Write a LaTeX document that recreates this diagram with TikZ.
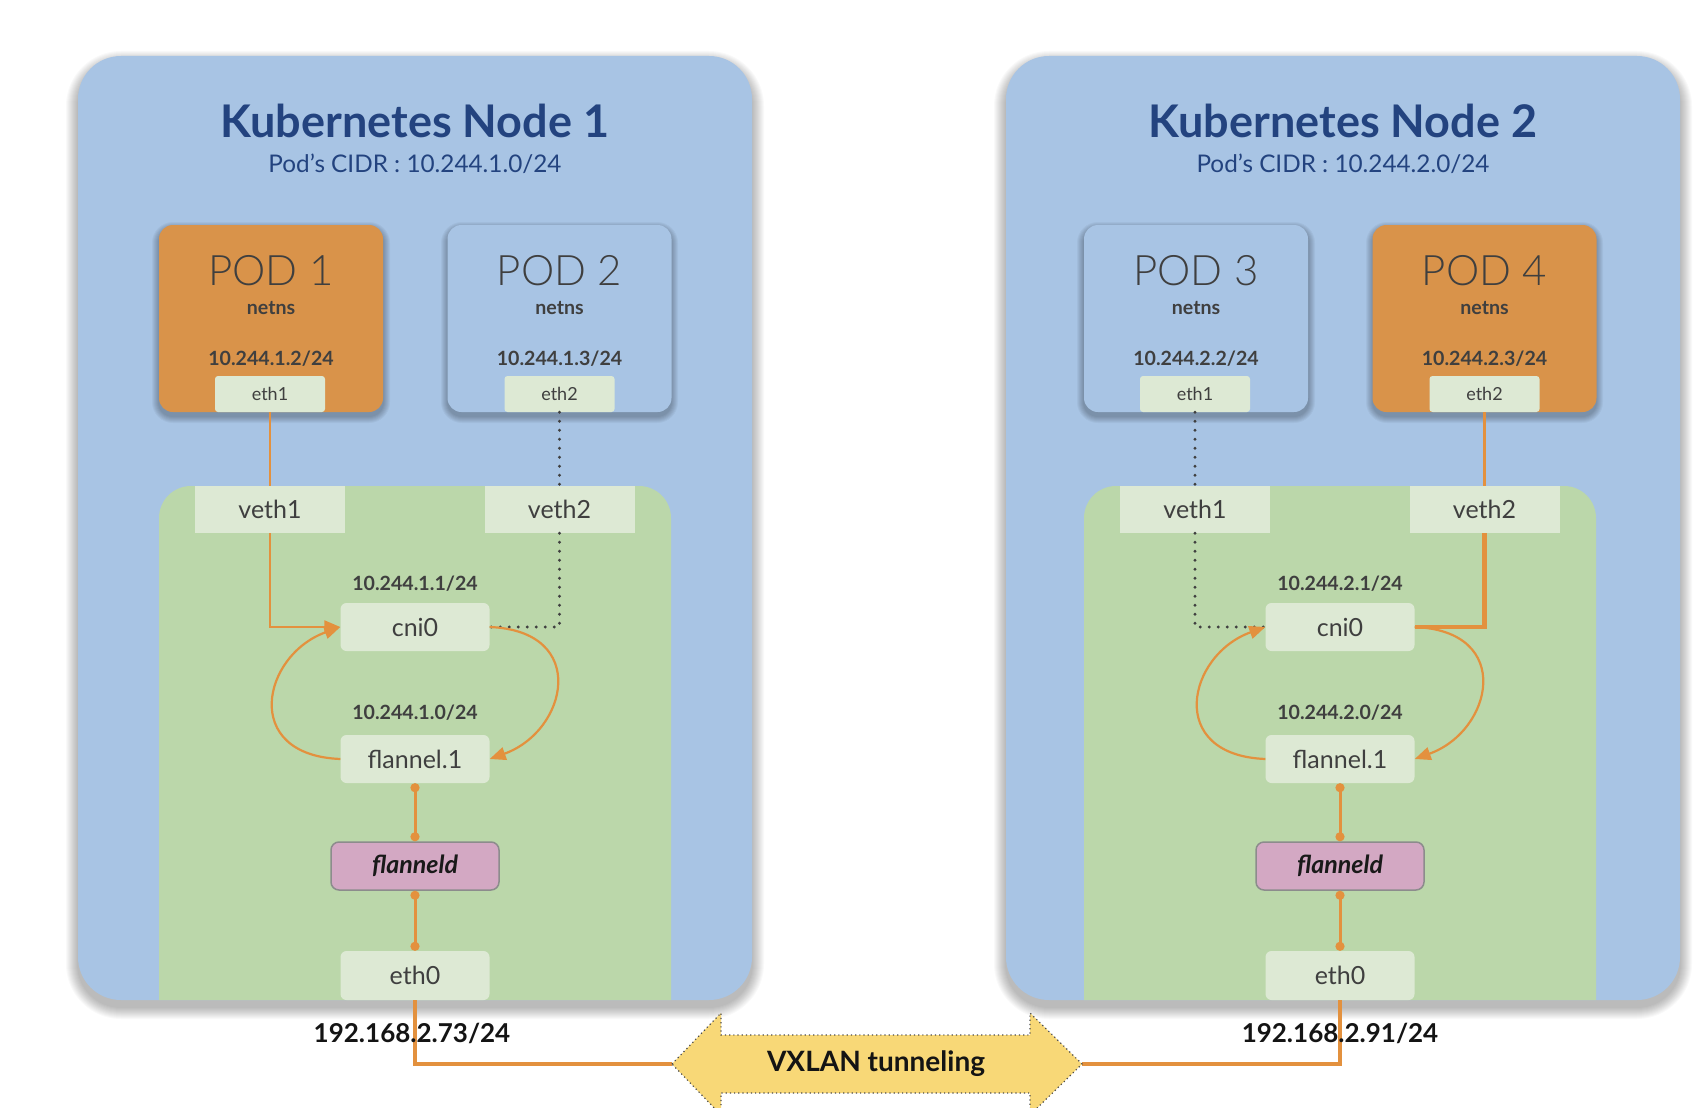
\documentclass[tikz,border=0pt]{standalone}
\usepackage{fontspec}
\setmainfont{Lato}
\newfontfamily\lightfont{Lato Light}
\usetikzlibrary{arrows.meta}
\definecolor{kblue}{HTML}{A8C4E4}
\definecolor{ktitle}{HTML}{23437F}
\definecolor{korange}{HTML}{D9934A}
\definecolor{kgreen}{HTML}{BBD7AA}
\definecolor{klight}{HTML}{DDE9D4}
\definecolor{kpink}{HTML}{D3A8C3}
\definecolor{kwire}{HTML}{E3913E}
\definecolor{kyellow}{HTML}{F8D877}
\definecolor{ktext}{HTML}{3F3F3F}
\newcommand{\mysoftshadow}[7]{%
  \foreach \k in {1,...,#6}{%
    \fill[black, opacity=#7, rounded corners={(#5+\k)*1pt}] ({#1-\k},{#2-\k+7}) rectangle ({#3+\k},{#4+\k+7});
  }}
\begin{document}
\begin{tikzpicture}[x=1pt,y=-1pt,
  outerbox/.style={fill=kblue, rounded corners=43pt, inner sep=0pt, minimum width=674pt, minimum height=944pt},
  ttl/.style={text=ktitle, font=\fontsize{45}{50}\selectfont\bfseries, anchor=base, inner sep=0pt},
  subttl/.style={text=ktitle, font=\fontsize{24.3}{28}\selectfont, anchor=base, inner sep=0pt},
  podbox/.style={rounded corners=14pt, minimum width=224pt, minimum height=187pt, inner sep=0pt},
  podname/.style={text=ktext, font=\lightfont\fontsize{42}{48}\selectfont, anchor=base, inner sep=0pt},
  smallbold/.style={text=ktext, font=\fontsize{19.6}{24}\selectfont\bfseries, anchor=base, inner sep=0pt},
  ethbox/.style={fill=klight, rounded corners=3pt, minimum width=110pt, minimum height=36pt, inner sep=0pt, text=ktext, font=\fontsize{18}{22}\selectfont},
  vethbox/.style={fill=klight, minimum width=150pt, minimum height=47pt, inner sep=0pt, text=ktext, font=\fontsize{25}{30}\selectfont},
  ifbox/.style={fill=klight, rounded corners=6pt, minimum width=149pt, minimum height=48pt, inner sep=0pt, text=ktext, font=\fontsize{25}{30}\selectfont},
  flbox/.style={fill=kpink, draw=black!45, line width=1.5pt, rounded corners=8pt, minimum width=168pt, minimum height=48pt, inner sep=0pt, text=black!90, font=\fontsize{25}{30}\selectfont\bfseries\itshape},
  iplabel/.style={text=black!92, font=\fontsize{26}{30}\selectfont\bfseries, anchor=base, inner sep=0pt},
  wire/.style={draw=kwire, line width=2.2pt},
  thickwire/.style={draw=kwire, line width=4.5pt},
  dotwire/.style={draw=ktext, line width=3.2pt, line cap=round, dash pattern=on 0pt off 9pt},
  arr/.style={-{Triangle[length=16pt,width=13pt]}},
  dotends/.style={{Circle[length=9pt]}-{Circle[length=9pt]}},
]
\useasboundingbox (0,0) rectangle (1700,1108);
\fill[white] (0,0) rectangle (1700,1108);

% outer node boxes
\mysoftshadow{78}{56}{752}{1000}{43}{12}{0.022}
\mysoftshadow{1006}{56}{1680}{1000}{43}{12}{0.022}
\node[outerbox] (n1) at (415,528) {};
\node[outerbox] (n2) at (1343,528) {};

\node[ttl] (t1) at (415,137) {Kubernetes Node 1};
\node[subttl] (s1) at (415,172) {Pod’s CIDR : 10.244.1.0/24};
\node[ttl] (t2) at (1343,137) {Kubernetes Node 2};
\node[subttl] (s2) at (1343,172) {Pod’s CIDR : 10.244.2.0/24};

% host network areas
\fill[kgreen, rounded corners=32pt] (159,1000) -- (159,486) -- (671,486) -- (671,1000);
\fill[kgreen, rounded corners=32pt] (1084,1000) -- (1084,486) -- (1596,486) -- (1596,1000);

% pods
\mysoftshadow{159}{222}{383}{409}{14}{7}{0.04}
\mysoftshadow{448}{222}{671}{409}{14}{7}{0.04}
\mysoftshadow{1084}{222}{1308}{409}{14}{7}{0.04}
\mysoftshadow{1373}{222}{1596}{409}{14}{7}{0.04}
\node[podbox, fill=korange] (p1) at (271,318.5) {};
\node[podbox, fill=kblue] (p2) at (559.5,318.5) {};
\node[podbox, fill=kblue] (p3) at (1196,318.5) {};
\node[podbox, fill=korange] (p4) at (1484.5,318.5) {};

\node[podname] (p1t) at (271,285) {POD 1};
\node[podname] (p2t) at (559.5,285) {POD 2};
\node[podname] (p3t) at (1196,285) {POD 3};
\node[podname] (p4t) at (1484.5,285) {POD 4};
\node[smallbold] (p1n) at (271,314) {netns};
\node[smallbold] (p2n) at (559.5,314) {netns};
\node[smallbold] (p3n) at (1196,314) {netns};
\node[smallbold] (p4n) at (1484.5,314) {netns};
\node[smallbold] (p1ip) at (271,365) {10.244.1.2/24};
\node[smallbold] (p2ip) at (559.5,365) {10.244.1.3/24};
\node[smallbold] (p3ip) at (1196,365) {10.244.2.2/24};
\node[smallbold] (p4ip) at (1484.5,365) {10.244.2.3/24};

\node[ethbox] (e1) at (270,394) {eth1};
\node[ethbox] (e2) at (559.5,394) {eth2};
\node[ethbox] (e3) at (1195,394) {eth1};
\node[ethbox] (e4) at (1484.5,394) {eth2};

% veth
\node[vethbox] (v1) at (270,509.5) {veth1};
\node[vethbox] (v2) at (559.5,509.5) {veth2};
\node[vethbox] (v3) at (1195,509.5) {veth1};
\node[vethbox] (v4) at (1484.5,509.5) {veth2};

% bridge, vxlan, daemon, eth0
\node[smallbold] (c1ip) at (415,590) {10.244.1.1/24};
\node[smallbold] (f1ip) at (415,719) {10.244.1.0/24};
\node[smallbold] (c2ip) at (1340,590) {10.244.2.1/24};
\node[smallbold] (f2ip) at (1340,719) {10.244.2.0/24};
\node[ifbox] (c1) at (415,627) {cni0};
\node[ifbox] (f1) at (415,759) {flannel.1};
\node[flbox] (d1) at (415,866) {flanneld};
\node[ifbox, minimum height=49pt] (o1) at (415,975.5) {eth0};
\node[ifbox] (c2) at (1340,627) {cni0};
\node[ifbox] (f2) at (1340,759) {flannel.1};
\node[flbox] (d2) at (1340,866) {flanneld};
\node[ifbox, minimum height=49pt] (o2) at (1340,975.5) {eth0};

% node 1 wiring
\draw[wire] (e1.south) -- (v1.north);
\draw[wire, arr] (v1.south) |- (c1.west);
\draw[dotwire] (e2.south) -- (v2.north);
\draw[dotwire] (v2.south) |- (c1.east);
\draw[wire, arr] (f1.west) .. controls +(-100,-4) and +(-78,28) .. (c1.west);
\draw[wire, arr] (c1.east) .. controls +(100,4) and +(78,-28) .. (f1.east);
\draw[wire, line width=3pt, dotends] (f1.south) -- (d1.north);
\draw[wire, line width=3pt, dotends] (d1.south) -- (o1.north);

% node 2 wiring
\draw[dotwire] (e3.south) -- (v3.north);
\draw[dotwire] (v3.south) |- (c2.west);
\draw[wire] (e4.south) -- (v4.north);
\draw[thickwire] (v4.south) |- (c2.east);
\draw[wire, arr] (f2.west) .. controls +(-100,-4) and +(-78,28) .. (c2.west);
\draw[wire, arr] (c2.east) .. controls +(100,4) and +(78,-28) .. (f2.east);
\draw[wire, line width=3pt, dotends] (f2.south) -- (d2.north);
\draw[wire, line width=3pt, dotends] (d2.south) -- (o2.north);

% VXLAN tunnel
\coordinate (vxl) at (672,1064);
\coordinate (vxr) at (1082,1064);
\draw[thickwire] (o1.south) |- (vxl);
\draw[thickwire] (o2.south) |- (vxr);
\filldraw[fill=kyellow, draw=black!70, line width=1.2pt, dash pattern=on 1.2pt off 3pt]
  (vxl) -- (721,1013) -- (721,1035) -- (1030,1035) -- (1030,1013) -- (vxr)
  -- (1030,1115) -- (1030,1093) -- (721,1093) -- (721,1115) -- cycle;
\node[text=black!92, font=\fontsize{28}{32}\selectfont\bfseries, inner sep=0pt] (vx) at (876,1064) {VXLAN tunneling};

\node[iplabel] (ip1) at (412,1042) {192.168.2.73/24};
\node[iplabel] (ip2) at (1340,1042) {192.168.2.91/24};
\end{tikzpicture}
\end{document}
